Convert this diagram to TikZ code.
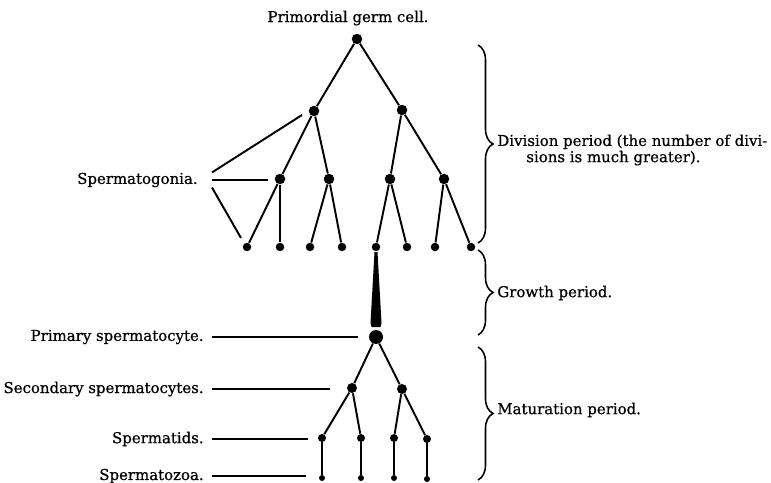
\documentclass[tikz,border=0pt]{standalone}
\usepackage{fontspec}
\setmainfont{DejaVu Serif}[FakeBold=0.7]
\usetikzlibrary{decorations.pathreplacing}

\tikzset{
  cell/.style={circle,fill=black,inner sep=0pt,minimum size=#1},
  cell/.default=0.21cm,
  link/.style={line width=1.1pt},
  lbl/.style={anchor=east,inner ysep=0pt,inner xsep=0.16cm,font=\fontsize{8.5}{7.3}\selectfont},
  period/.style={decorate,decoration={brace,amplitude=0.3cm},line width=0.9pt},
  note/.style={anchor=west,inner sep=0pt,align=left,font=\fontsize{8.5}{7.3}\selectfont}
}

\begin{document}
\begin{tikzpicture}[x=0.02cm,y=-0.02cm]
\useasboundingbox (0,0) rectangle (771,483);

\node[inner sep=0pt,font=\fontsize{8.5}{7.3}\selectfont] (pgc) at (348,18) {Primordial germ cell.};

% division period
\node[cell] (g0) at (357,39) {};
\node[cell] (g1) at (314,111) {};
\node[cell] (g2) at (402,110) {};
\node[cell] (g3) at (280,179) {};
\node[cell] (g4) at (329,179) {};
\node[cell] (g5) at (390,179) {};
\node[cell] (g6) at (444,179) {};
\node[cell=0.17cm] (l1) at (247,247) {};
\node[cell=0.17cm] (l2) at (280,247) {};
\node[cell=0.17cm] (l3) at (310,247) {};
\node[cell=0.17cm] (l4) at (342,247) {};
\node[cell=0.17cm] (l5) at (376,247) {};
\node[cell=0.17cm] (l6) at (407,247) {};
\node[cell=0.17cm] (l7) at (435,247) {};
\node[cell=0.17cm] (l8) at (471,247) {};

\draw[link] (g0) -- (g1);
\draw[link] (g0) -- (g2);
\draw[link] (g1) -- (g3);
\draw[link] (g1) -- (g4);
\draw[link] (g2) -- (g5);
\draw[link] (g2) -- (g6);
\draw[link] (g3) -- (l1);
\draw[link] (g3) -- (l2);
\draw[link] (g4) -- (l3);
\draw[link] (g4) -- (l4);
\draw[link] (g5) -- (l5);
\draw[link] (g5) -- (l6);
\draw[link] (g6) -- (l7);
\draw[link] (g6) -- (l8);

\node[lbl,inner xsep=0.28cm] (sg) at (212,180) {Spermatogonia.};
\coordinate (sga) at (302,115);
\coordinate (sgb) at (268,180);
\coordinate (sgc) at (241,238);
\draw[link] (sg.north east) -- (sga);
\draw[link] (sg.east) -- (sgb);
\draw[link] (sg.south east) -- (sgc);

% growth period
\fill (374.5,252) -- (377.5,252) -- (381.5,323) -- (380.5,327) -- (371.5,327) -- (370.5,323) -- cycle;

% maturation period
\node[cell=0.28cm] (p) at (376,337) {};
\node[cell=0.2cm] (s1) at (352,388) {};
\node[cell=0.2cm] (s2) at (402,389) {};
\node[cell=0.16cm] (t1) at (322,438) {};
\node[cell=0.16cm] (t2) at (361,438) {};
\node[cell=0.16cm] (t3) at (394,438) {};
\node[cell=0.16cm] (t4) at (427,439) {};
\node[cell=0.12cm] (z1) at (322,478) {};
\node[cell=0.12cm] (z2) at (361,478) {};
\node[cell=0.12cm] (z3) at (394,478) {};
\node[cell=0.12cm] (z4) at (427,479) {};

\draw[link] (p) -- (s1);
\draw[link] (p) -- (s2);
\draw[link] (s1) -- (t1);
\draw[link] (s1) -- (t2);
\draw[link] (s2) -- (t3);
\draw[link] (s2) -- (t4);
\draw[link] (t1) -- (z1);
\draw[link] (t2) -- (z2);
\draw[link] (t3) -- (z3);
\draw[link] (t4) -- (z4);

\node[lbl] (ps) at (212,337) {Primary spermatocyte.};
\node[lbl] (ss) at (212,389) {Secondary spermatocytes.};
\node[lbl] (st) at (212,439) {Spermatids.};
\node[lbl] (sz) at (212,476) {Spermatozoa.};
\coordinate (pse) at (358,337);
\coordinate (sse) at (330,389);
\coordinate (ste) at (308,439);
\coordinate (sze) at (306,476);
\draw[link] (ps.east) -- (pse);
\draw[link] (ss.east) -- (sse);
\draw[link] (st.east) -- (ste);
\draw[link] (sz.east) -- (sze);

% periods
\draw[period] (478,45) -- (478,243);
\draw[period] (478,250) -- (478,335);
\draw[period] (478,347) -- (478,480);
\node[note] (dp) at (497,150) {Division period (the number of divi-\\\hspace*{0.58cm}sions is much greater).};
\node[note] (gp) at (497,293) {Growth period.};
\node[note] (mp) at (497,410) {Maturation period.};
\end{tikzpicture}
\end{document}
